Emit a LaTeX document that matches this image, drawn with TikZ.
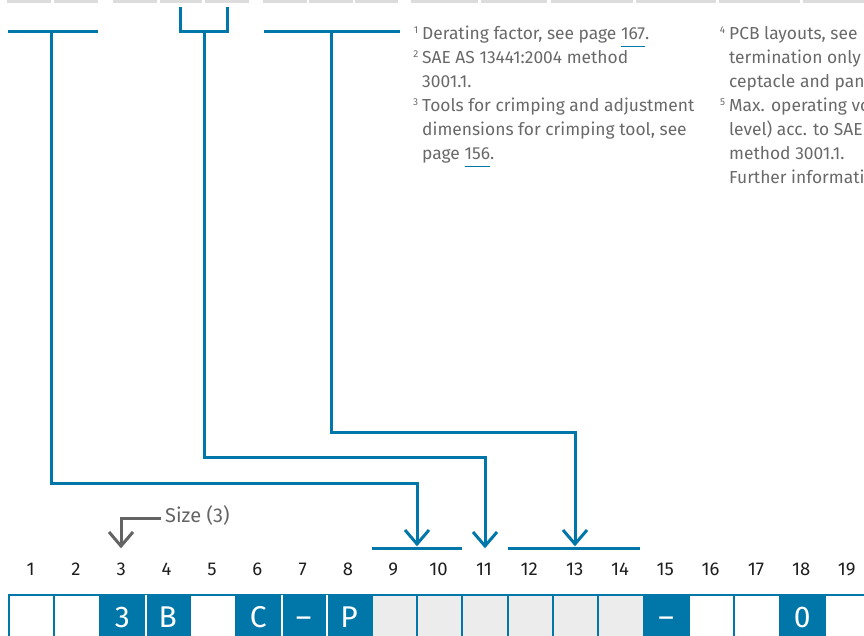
\documentclass[tikz,border=0pt]{standalone}
\usepackage{fontspec}
\setmainfont{Fira Sans}
\usetikzlibrary{calc}
\definecolor{tblue}{RGB}{0,119,168}
\definecolor{topgrey}{RGB}{220,220,220}
\definecolor{cellgrey}{RGB}{236,236,236}
\definecolor{txtgrey}{RGB}{105,105,105}
\definecolor{arrgrey}{RGB}{100,100,100}
\definecolor{numblack}{RGB}{30,30,30}
\newsavebox\ulbox
\newcommand\pgul[1]{\sbox\ulbox{#1}\rlap{\color{tblue}\rule[-7.5pt]{\wd\ulbox}{1.3pt}}\usebox\ulbox}
\newcommand\fnsup[1]{\llap{\raisebox{6.5pt}{\fontsize{10}{10}\selectfont #1}\hspace{4pt}}}
\newcommand\fnfont{\fontsize{17.4}{24}\selectfont}
\newcommand\numfont{\fontsize{18.5}{20}\selectfont}
\newcommand\cellfont{\fontsize{30}{32}\selectfont}
\newcommand\vhead[2]{\draw[#1] ($(#2)+(-12,-14)$) -- (#2) -- ($(#2)+(12,-14)$);}
\tikzset{
  conn/.style={draw=tblue, line width=3pt, line join=miter},
  grarrow/.style={draw=arrgrey, line width=3pt, line join=miter},
  fn/.style={anchor=base west, inner sep=0pt, font=\fnfont, text=txtgrey},
  numlab/.style={anchor=base, inner sep=0pt, font=\numfont, text=numblack},
  cellbox/.style={anchor=north west, minimum width=45.33pt, minimum height=45pt,
    text height=21pt, text depth=0pt, inner sep=0pt, draw=tblue, line width=2pt,
    font=\cellfont, text=white},
  topbar/.style={fill=topgrey, draw=none}
}
\begin{document}
\begin{tikzpicture}[x=1pt,y=-1pt]
\useasboundingbox (0,0) rectangle (864,635);
\clip (0,0) rectangle (864,635);
% top grey bars
\foreach \a/\b in {7/51,54/98,113/157,160/202,205/249,263/307,309/353,355/398,411/478,481/547,551/633,636/716,719/800,803/864}
  \fill[topbar] (\a,0) rectangle (\b,3.3);

% footnotes column 1
\node[fn] (f1) at (422,39.5) {\fnsup{1}Derating factor, see page \pgul{167}.};
\node[fn] (f2) at (422,63.5) {\fnsup{2}SAE AS 13441:2004 method};
\node[fn] (f2b) at (422,87.5) {3001.1.};
\node[fn] (f3) at (422,111.5) {\fnsup{3}Tools for crimping and adjustment};
\node[fn] (f3b) at (422,135.5) {dimensions for crimping tool, see};
\node[fn] (f3c) at (422,159.5) {page \pgul{156}.};
% footnotes column 2
\node[fn] (f4) at (729,39.5) {\fnsup{4}PCB layouts, see};
\node[fn] (f4b) at (729,63.5) {termination only};
\node[fn] (f4c) at (729,87.5) {ceptacle and pan};
\node[fn] (f5) at (729,111.5) {\fnsup{5}Max. operating vo};
\node[fn] (f5b) at (729,135.5) {level) acc. to SAE};
\node[fn] (f5c) at (729,159.5) {method 3001.1.};
\node[fn] (f5d) at (729,183.5) {Further informati};

% connector 1
\coordinate (h1a) at (8,31); \coordinate (h1b) at (98,31);
\coordinate (j1) at (51,31); \coordinate (k1) at (51,483); \coordinate (t1) at (417,544);
\draw[conn] (h1a) -- (h1b);
\draw[conn] (j1) -- (k1) -| (t1);
\vhead{conn}{t1}
% connector 2 (bracket)
\coordinate (br1) at (180,7); \coordinate (br2) at (180,31);
\coordinate (br3) at (227,31); \coordinate (br4) at (227,7);
\coordinate (j2) at (204,31); \coordinate (k2) at (204,457); \coordinate (t2) at (485,546);
\draw[conn] (br1) -- (br2) -- (br3) -- (br4);
\draw[conn] (j2) -- (k2) -| (t2);
\vhead{conn}{t2}
% connector 3
\coordinate (h3a) at (264,31); \coordinate (h3b) at (400,31);
\coordinate (j3) at (331,31); \coordinate (k3) at (331,432); \coordinate (t3) at (575,544);
\draw[conn] (h3a) -- (h3b);
\draw[conn] (j3) -- (k3) -| (t3);
\vhead{conn}{t3}
% target bars
\coordinate (b1a) at (372,548); \coordinate (b1b) at (462,548);
\coordinate (b2a) at (508,548); \coordinate (b2b) at (640,548);
\draw[conn] (b1a) -- (b1b);
\draw[conn] (b2a) -- (b2b);

% size label
\node[anchor=base west, inner sep=0pt, font=\fontsize{20}{22}\selectfont, text=arrgrey] (size) at (165,522) {Size (3)};
\coordinate (s1) at (121,518); \coordinate (st) at (121,546);
\draw[grarrow] (size.west |- s1) ++(-4,0) -- (s1) -- (st);
\vhead{grarrow}{st}

% position numbers
\foreach \k in {1,...,19}
  \node[numlab] (n\k) at ({8+45.33*(\k-0.5)},575) {\k};

% cells
\foreach \k/\c/\t in {1/white/,2/white/,3/tblue/3,4/tblue/B,5/white/,6/tblue/C,7/tblue/–,8/tblue/P,
  9/cellgrey/,10/cellgrey/,11/cellgrey/,12/cellgrey/,13/cellgrey/,14/cellgrey/,
  15/tblue/–,16/white/,17/white/,18/tblue/0,19/white/}
  \node[cellbox, fill=\c] (c\k) at ({8+45.33*(\k-1)},593.5) {\t};
\foreach \k in {3,6,7}
  \draw[white, line width=2pt] ($(c\k.north east)+(0,1.5)$) -- (c\k.south east);
\end{tikzpicture}
\end{document}
